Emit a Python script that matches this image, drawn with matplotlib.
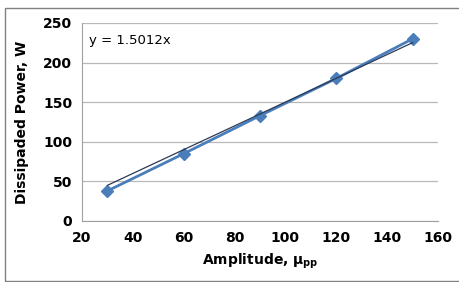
import matplotlib.pyplot as plt
from matplotlib.patches import Rectangle

amplitude = [30, 60, 90, 120, 150]
power = [38, 85, 133, 180, 230]
slope = 1.5012
x_ticks = [20, 40, 60, 80, 100, 120, 140, 160]
y_ticks = [0, 50, 100, 150, 200, 250]

fig = plt.figure(figsize=(4.6, 2.82), dpi=100)
ax = fig.add_axes([82 / 460, 1 - 221 / 282, (438 - 82) / 460, (221 - 23) / 282])

# trendline
trend_x = [amplitude[0], amplitude[-1]]
trend_y = [slope * v for v in trend_x]
ax.plot(trend_x, trend_y, color="#2b3a55", linewidth=0.9, zorder=3)

ax.plot(amplitude, power, color="#4a7ebb", linewidth=2, marker="D",
        markersize=6, zorder=2)

ax.set_xlim(20, 160)
ax.set_ylim(0, 250)
ax.set_xticks(x_ticks)
ax.set_yticks(y_ticks)
ax.grid(axis="y", color="#b8b8b8", linewidth=0.9)
ax.set_axisbelow(True)
for s in ["top", "right"]:
    ax.spines[s].set_visible(False)
for s in ["left", "bottom"]:
    ax.spines[s].set_color("#a0a0a0")
ax.tick_params(length=0, labelsize=10, pad=7)
for lbl in ax.get_xticklabels() + ax.get_yticklabels():
    lbl.set_fontweight("bold")

ax.set_xlabel(r"Amplitude, $\mathregular{\mu_{pp}}$", fontsize=10,
              fontweight="bold", labelpad=5)
ax.set_ylabel("Dissipaded Power, W", fontsize=10, fontweight="bold",
              labelpad=10)
ax.text(0.02, 0.914, "y = 1.5012x", transform=ax.transAxes, fontsize=9.5,
        va="center", ha="left")

fig.patches.append(Rectangle((5 / 460, 1 / 282), 460 / 460, 273 / 282,
                             transform=fig.transFigure, fill=False,
                             edgecolor="#808080", linewidth=1))

fig.savefig("out.png", dpi=100)
